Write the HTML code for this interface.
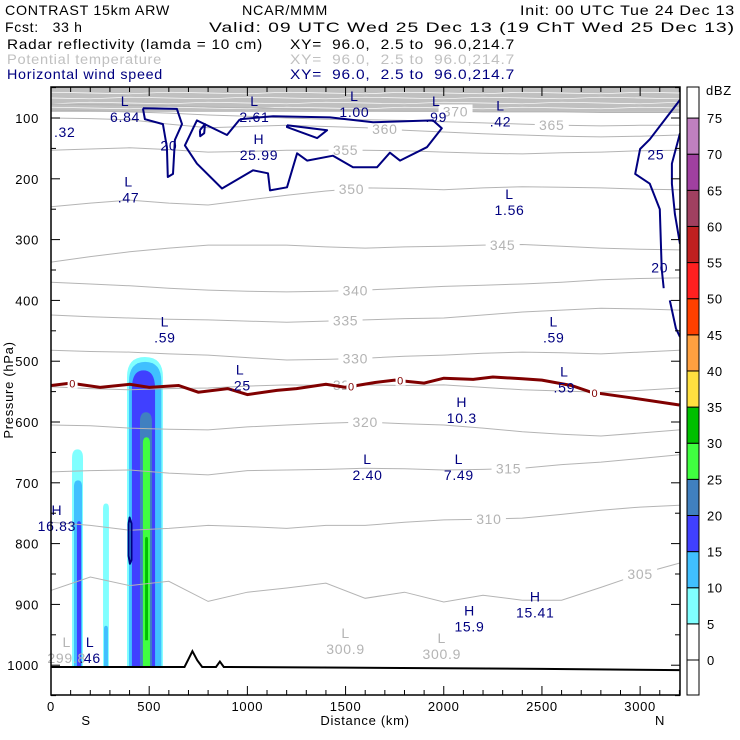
<!DOCTYPE html>
<html><head><meta charset="utf-8">
<style>
body{margin:0;background:#fff;}
svg{display:block;font-family:"Liberation Sans",sans-serif;}
svg text{letter-spacing:0.7px;}
</style></head>
<body>
<svg id="chart" width="740" height="740" viewBox="0 0 740 740" xmlns="http://www.w3.org/2000/svg">
<g font-size="14">
<text x="5" y="15" fill="#000" textLength="165" lengthAdjust="spacingAndGlyphs">CONTRAST 15km ARW</text>
<text x="242" y="15" fill="#000" textLength="86" lengthAdjust="spacingAndGlyphs">NCAR/MMM</text>
<text x="520" y="15" fill="#000" textLength="215" lengthAdjust="spacingAndGlyphs">Init: 00 UTC Tue 24 Dec 13</text>
<text x="5" y="32" fill="#000" xml:space="preserve">Fcst:   33 h</text>
<text x="209" y="32" fill="#000" textLength="526" lengthAdjust="spacingAndGlyphs">Valid: 09 UTC Wed 25 Dec 13 (19 ChT Wed 25 Dec 13)</text>
<text x="7" y="49" fill="#000" textLength="256" lengthAdjust="spacingAndGlyphs">Radar reflectivity (lamda = 10 cm)</text>
<text x="290" y="49" fill="#000" xml:space="preserve" textLength="225" lengthAdjust="spacingAndGlyphs">XY=  96.0,  2.5 to  96.0,214.7</text>
<text x="7" y="64" fill="#c0c0c0" textLength="155" lengthAdjust="spacingAndGlyphs">Potential temperature</text>
<text x="290" y="64" fill="#c0c0c0" xml:space="preserve" textLength="225" lengthAdjust="spacingAndGlyphs">XY=  96.0,  2.5 to  96.0,214.7</text>
<text x="7" y="79" fill="#000080" textLength="156" lengthAdjust="spacingAndGlyphs">Horizontal wind speed</text>
<text x="290" y="79" fill="#000080" xml:space="preserve" textLength="225" lengthAdjust="spacingAndGlyphs">XY=  96.0,  2.5 to  96.0,214.7</text>
</g>
<g id="plot"></g>
</svg>
<script>
// ---- data ----
const thetaDist = [0,200,400,600,800,1000,1200,1400,1600,1800,2000,2200,2400,2600,2800,3000,3200];
const thetaLevels = [305,310,315,320,325,330,335,340,345,350,355,360,365,370];
const theta305 = [877,855,869,862,895,880,873,865,890,880,896,885,893,893,872,850,832];
const theta310 = [765,770,778,775,770,772,775,770,770,765,761,760,758,752,745,740,737];
const theta315 = [682,680,679,684,687,680,679,678,676,677,679,678,676,670,666,660,654];
const theta320 = [605,606,610,612,613,608,605,602,600,603,605,610,616,620,623,618,613];
const theta325 = [542,545,547,545,544,541,539,540,539,540,539,543,547,549,551,548,544];
const theta330 = [482,484,485,488,490,494,498,497,495,492,490,487,485,486,488,485,482];
const theta335 = [424,427,429,431,432,434,436,434,432,430,429,424,419,416,413,414,416];
const theta340 = [370,373,376,380,383,385,386,385,383,380,377,375,373,370,366,364,363];
const theta345 = [337,328,320,314,309,309,309,312,314,312,311,309,308,311,314,316,317];
const theta350 = [246,240,235,240,243,235,227,220,215,216,218,215,213,214,215,217,218];
const theta355 = [153,151,149,152,156,155,153,153,153,154,156,158,159,157,156,154,153];
const theta360 = [100,101,103,110,116,114,112,114,116,120,123,126,128,130,131,130,128];
const theta365 = [87,88,90,92,95,97,100,102,103,104,106,108,110,112,113,112,112];
const theta370 = [77,78,79,80,82,83,85,87,88,89,89,90,90,90,91,91,91];
const thetaLabelPos = [[3000,305],[2230,310],[2330,315],[1600,320],[1500,325],[1550,330],[1500,335],[1550,340],[2300,345],[1530,350],[1500,355],[1700,360],[2550,365],[2060,370]];

const freezeDist = [0,100,250,400,500,650,750,900,1000,1150,1250,1400,1500,1650,1750,1900,2000,2150,2250,2400,2500,2650,2750,2950,3200];
const freezePres = [540,536,543,538,543,540,551,545,555,548,545,538,543,535,531,536,528,530,526,529,531,540,551,560,572];
const freezeLabels = [110,1530,1780,2770];

const terrainDist = [0,300,600,680,700,720,745,770,800,840,860,880,905,1500,2000,2500,3200];
const terrainPres = [1003,1003,1003,1003,990,977,992,1003,1003,1003,994,1003,1003,1004,1005,1006,1008];

// wind speed 20 m/s contours: [distance km, pressure hPa]
const windMain = [[962,102],[896,128],[743,104],[682,145],[743,175],[871,216],[1029,186],[1105,191],[1115,219],[1202,214],[1253,158],[1304,170],[1436,162],[1538,181],[1660,181],[1726,157],[1777,170],[1914,148],[1990,117],[1945,104],[1640,107],[1421,99],[1131,97],[962,102]];
const windInner = [[1202,112],[1406,120],[1355,133],[1202,115],[1202,112]];
const windLeft = [[468,84],[641,85],[667,110],[631,136],[621,192],[595,197],[590,148],[570,110],[478,102],[468,84]];
const windBlob = [[758,120],[784,110],[780,125],[760,130],[758,120]];
const windRight1 = [[3203,70],[3049,135],[3000,151],[2975,192],[3049,208],[3100,250],[3110,348],[3120,380]];
const windRight2 = [[3151,400],[3182,446],[3203,460]];
const windRight3 = [[3203,125],[3162,175],[3162,208],[3177,258],[3203,307]];
const windCore = [[395,767],[400,757],[410,767],[410,827],[402,833],[395,820],[395,767]];

// reflectivity layers
const dbzColors = ["#ffffff","#ffffff","#80ffff","#40c0ff","#4040ff","#4080c0","#40ff40","#00c000","#ffe040","#ffa040","#ff4000","#ff2020","#c02020","#a04060","#a040a0","#c080c0","#ffffff"];
const dbzLabels = [0,5,10,15,20,25,30,35,40,45,50,55,60,65,70,75];
const cellLeft = [107,117,132,387,397,412,453,468,479,265,270];
const cellRight = [163,158,153,570,562,530,514,504,494,295,290];
const cellTop = [645,696,763,493,501,515,584,625,789,734,935];
const cellBottom = [1003,1003,1003,1003,1003,1003,1003,1003,959,1003,1003];
const cellBin = [2,3,4,2,3,4,5,6,7,2,3];

const extremaDist = [377,1036,1545,1962,2289,1059,395,2335,580,2560,963,2614,2092,1612,2077,30,199,2131,2466,70];
const extremaPres = [80,80,72,80,88,143,213,233,443,443,522,525,575,669,669,753,970,918,895,105];
const extremaType = ["L","L","L","L","L","H","L","L","L","L","L","L","H","L","L","H","L","H","H",""];
const extremaValue = ["6.84","2.61","1.00",".99",".42","25.99",".47","1.56",".59",".59",".25",".59","10.3","2.40","7.49","16.83",".46","15.9","15.41",".32"];

const xTicks = [0,500,1000,1500,2000,2500,3000];
const yTicks = [100,200,300,400,500,600,700,800,900,1000];

// ---- axes ----
const X0=51, X1=680, Y0=87, Y1=695;
const dMin=0, dMax=3203, pTop=49, pBot=1049;
const xs = d => X0 + (d-dMin)/(dMax-dMin)*(X1-X0);
const ys = p => Y0 + (p-pTop)/(pBot-pTop)*(Y1-Y0);
const NS="http://www.w3.org/2000/svg";
const plot=document.getElementById('plot');
function mk(tag,attrs,parent){const e=document.createElementNS(NS,tag);for(const k in attrs)e.setAttribute(k,attrs[k]);(parent||plot).appendChild(e);return e;}
function ptsDP(arr){return arr.map(a=>xs(a[0]).toFixed(1)+","+ys(a[1]).toFixed(1)).join(" ");}

const defs=mk('defs',{});
const cp=mk('clipPath',{id:'pc'},defs);
mk('rect',{x:X0,y:Y0,width:X1-X0,height:Y1-Y0},cp);
const inner=mk('g',{'clip-path':'url(#pc)'});



// stratosphere band
const band=mk('rect',{x:X0,y:Y0,width:X1-X0,height:ys(90)-Y0,fill:'#c0c0c0'},inner);


for(let i=0;i<4;i++){
  const bl=mk('polyline',{points:thetaDist.map((d,j)=>xs(d).toFixed(1)+","+(Y0+6+i*5+((j*7+i)%3-1)*0.8).toFixed(1)).join(" "),fill:'none',stroke:'#ffffff','stroke-width':0.7},inner);
  
  
}

// reflectivity
for(let i=0;i<cellLeft.length;i++){
  const l=xs(cellLeft[i]), r=xs(cellRight[i]), t=ys(cellTop[i]), b=ys(cellBottom[i]);
  const w=r-l, mid=(l+r)/2, k=Math.min(w*0.8,20);
  const path=`M${l},${b} L${l},${t+k} Q${l},${t} ${mid},${t} Q${r},${t} ${r},${t+k} L${r},${b} Z`;
  const c=mk('path',{d:path,fill:dbzColors[cellBin[i]]},inner);
  
  
}

// theta contours
const thetaSeries=[theta305,theta310,theta315,theta320,theta325,theta330,theta335,theta340,theta345,theta350,theta355,theta360,theta365,theta370];
thetaSeries.forEach((s,k)=>{
  const ln=mk('polyline',{points:thetaDist.map((d,j)=>xs(d).toFixed(1)+","+ys(s[j]).toFixed(1)).join(" "),fill:'none',stroke:'#b4b4b4','stroke-width':1},inner);
  
  
});
thetaLabelPos.forEach(lp=>{
  const lx=xs(lp[0]);
  const idx=thetaLevels.indexOf(lp[1]);
  let j=0;while(j<thetaDist.length-2&&thetaDist[j+1]<lp[0])j++;
  const f=(lp[0]-thetaDist[j])/(thetaDist[j+1]-thetaDist[j]);
  const p=thetaSeries[idx][j]*(1-f)+thetaSeries[idx][j+1]*f;
  const ly=ys(p);
  const bg=mk('rect',{x:lx-17,y:ly-7,width:34,height:14,fill:'#ffffff'},inner);
  
  
  const t=mk('text',{x:lx,y:ly+5,'text-anchor':'middle','font-size':14,fill:'#b4b4b4'},inner);
  t.textContent=lp[1];
  
  
});

// freezing level
const fz=mk('polyline',{points:freezeDist.map((d,j)=>xs(d).toFixed(1)+","+ys(freezePres[j]).toFixed(1)).join(" "),fill:'none',stroke:'#800000','stroke-width':3},inner);


freezeLabels.forEach(d=>{
  let j=0;while(j<freezeDist.length-2&&freezeDist[j+1]<d)j++;
  const f=(d-freezeDist[j])/(freezeDist[j+1]-freezeDist[j]);
  const p=freezePres[j]*(1-f)+freezePres[j+1]*f;
  const bg=mk('rect',{x:xs(d)-5,y:ys(p)-6,width:10,height:11,fill:'#ffffff'},inner);
  
  
  const t=mk('text',{x:xs(d),y:ys(p)+4,'text-anchor':'middle','font-size':11,fill:'#800000'},inner);
  t.textContent='0';
  
  
});

// wind contours
[windMain,windInner,windLeft,windBlob,windRight1,windRight2,windRight3,windCore].forEach(w=>{
  const e=mk('polyline',{points:ptsDP(w),fill:'none',stroke:'#000080','stroke-width':2,'stroke-linejoin':'round'},inner);
  
  
});
[[600,145,'20'],[3080,160,'25'],[3100,346,'20']].forEach(a=>{
  const t=mk('text',{x:xs(a[0]),y:ys(a[1])+5,'text-anchor':'middle','font-size':14,fill:'#000080'},inner);
  t.textContent=a[2];
  
  
});

// terrain
const tr=mk('polyline',{points:terrainDist.map((d,j)=>xs(d).toFixed(1)+","+ys(terrainPres[j]).toFixed(1)).join(" "),fill:'none',stroke:'#000','stroke-width':2},inner);



// gray lows near surface
[[1500,'L','300.9',975],[1990,'L','300.9',983],[80,'L','299.8',990]].forEach(a=>{
  const t=mk('text',{x:xs(a[0]),y:ys(a[3])-12,'text-anchor':'middle','font-size':14,fill:'#b4b4b4'});
  t.textContent=a[1];
  
  
  const v=mk('text',{x:xs(a[0]),y:ys(a[3])+4,'text-anchor':'middle','font-size':14,fill:'#b4b4b4'});
  v.textContent=a[2];
  
  
});

// extrema labels
extremaDist.forEach((d,i)=>{
  const x=xs(d), y=ys(extremaPres[i]);
  if(extremaType[i]){
    const t=mk('text',{x:x,y:y,'text-anchor':'middle','font-size':14,fill:'#000080'});
    t.textContent=extremaType[i];
    
    
  }
  const v=mk('text',{x:x,y:y+16,'text-anchor':'middle','font-size':14,fill:'#000080'});
  v.textContent=extremaValue[i];
  
  
});

// frame
const fr=mk('rect',{x:X0,y:Y0,width:X1-X0,height:Y1-Y0,fill:'none',stroke:'#000','stroke-width':1.5});



for(let d=0; d<=3200; d+=100){
  const x=xs(d), L=(d%500===0)?9:5;
  const a=mk('line',{x1:x,y1:Y1,x2:x,y2:Y1-L,stroke:'#000'});
  
  
  const b=mk('line',{x1:x,y1:Y0,x2:x,y2:Y0+L,stroke:'#000'});
  
  
}
xTicks.forEach(d=>{
  const t=mk('text',{x:xs(d),y:711,'text-anchor':'middle','font-size':13,fill:'#000'});
  t.textContent=d;
  
  
});
for(let p=50;p<=1050;p+=50){
  const y=ys(p), L=(p%100===0)?9:5;
  const a=mk('line',{x1:X0,y1:y,x2:X0+L,y2:y,stroke:'#000'});
  
  
  const b=mk('line',{x1:X1,y1:y,x2:X1-L,y2:y,stroke:'#000'});
  
  
}
yTicks.forEach(p=>{
  const t=mk('text',{x:39,y:ys(p)+5,'text-anchor':'end','font-size':13,fill:'#000'});
  t.textContent=p;
  
  
});
let t=mk('text',{x:365,y:725,'text-anchor':'middle','font-size':13,fill:'#000'});
t.textContent='Distance (km)';


t=mk('text',{x:86,y:725,'text-anchor':'middle','font-size':13,fill:'#000'});
t.textContent='S';


t=mk('text',{x:660,y:725,'text-anchor':'middle','font-size':13,fill:'#000'});
t.textContent='N';


t=mk('text',{x:0,y:0,'text-anchor':'middle','font-size':13,fill:'#000',transform:'translate(13,390) rotate(-90)'});
t.textContent='Pressure (hPa)';



// colorbar: bottom edge 695, first boundary 660, step 36.13, top edge 87
const CBX=687, CBW=12, step=36.13, n=dbzColors.length;
const bnd=i=> i===0?695:(i===n?87:660-(i-1)*step);
for(let i=0;i<n;i++){
  const r=mk('rect',{x:CBX,y:bnd(i+1),width:CBW,height:bnd(i)-bnd(i+1),fill:dbzColors[i],stroke:'#000','stroke-width':1});
  
  
}
dbzLabels.forEach((v,i)=>{
  const tt=mk('text',{x:707,y:bnd(i+1)+5,'font-size':13,fill:'#000'});
  tt.textContent=v;
  
  
});
t=mk('text',{x:706,y:95,'font-size':13,fill:'#000'});
t.textContent='dBZ';


</script>
</body></html>
